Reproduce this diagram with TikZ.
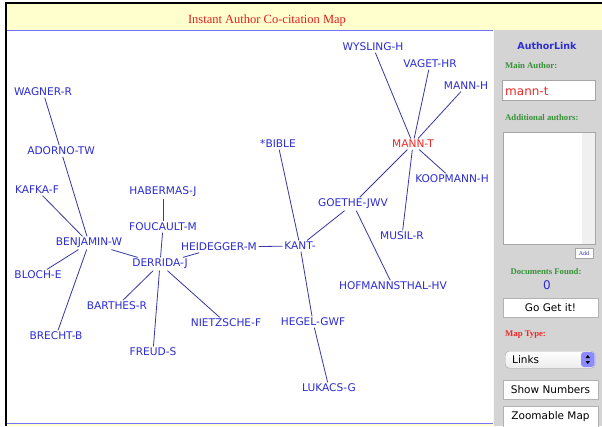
\documentclass[tikz,border=0pt]{standalone}
\usepackage{fontspec}
\setmainfont{Liberation Serif}
\setsansfont{DejaVu Sans}
\definecolor{authorblue}{RGB}{45,45,210}
\definecolor{linkblue}{RGB}{55,55,165}
\definecolor{mainred}{RGB}{240,40,40}
\definecolor{titlered}{RGB}{225,30,30}
\definecolor{titlebar}{RGB}{255,255,205}
\definecolor{panelgray}{RGB}{212,212,212}
\definecolor{formgreen}{RGB}{55,145,55}
\begin{document}
\begin{tikzpicture}[x=1pt, y=-1pt,
            author/.style = {text=authorblue, font=\sffamily\fontsize{10.6}{12}\selectfont, inner sep=1.5pt},
            mainauthor/.style = {author, text=mainred},
            link/.style = {draw=linkblue, line width=0.8pt},
            formlabel/.style = {text=formgreen, font=\bfseries\fontsize{8.7}{10}\selectfont, inner sep=0pt},
            button/.style = {draw=gray!60, fill=white, minimum width=95pt, minimum height=19pt, inner sep=0pt, font=\sffamily\fontsize{10.5}{12}\selectfont}
        ]

        \useasboundingbox (0,0) rectangle (602,426);
        \fill[white] (0,0) rectangle (602,426);
        \fill[titlebar] (6,3) rectangle (602,426);
        \fill[white] (7,30) rectangle (493,423);
        \draw[blue!55, line width=0.8pt] (7,30.5) -- (493,30.5) (7,423) -- (493,423);
        \fill[panelgray] (494,30) rectangle (602,426);
        \draw[black, line width=1.6pt] (6,426) -- (6,3) -- (602,3);

        \node[text=titlered, font=\fontsize{12.5}{14}\selectfont, anchor=base] (title) at (267,23) {Instant Author Co-citation Map};

        \node[author] (wagner) at (43,92) {WAGNER-R};
        \node[author] (adorno) at (61,151) {ADORNO-TW};
        \node[author] (kafka) at (37,190) {KAFKA-F};
        \node[author] (habermas) at (163,192) {HABERMAS-J};
        \node[author] (foucault) at (163,227) {FOUCAULT-M};
        \node[author] (benjamin) at (89,243) {BENJAMIN-W};
        \node[author] (heidegger) at (219,247) {HEIDEGGER-M};
        \node[author] (derrida) at (160,264) {DERRIDA-J};
        \node[author] (bloch) at (38,275) {BLOCH-E};
        \node[author] (barthes) at (117,306) {BARTHES-R};
        \node[author] (nietzsche) at (226,323) {NIETZSCHE-F};
        \node[author] (brecht) at (56,336) {BRECHT-B};
        \node[author] (freud) at (153,352) {FREUD-S};
        \node[author] (bible) at (278,144) {*BIBLE};
        \node[author] (kant) at (300,246) {KANT-};
        \node[author] (hegel) at (313,322) {HEGEL-GWF};
        \node[author] (lukacs) at (329,388) {LUKACS-G};
        \node[author] (goethe) at (353,204) {GOETHE-JWV};
        \node[author] (hofmannsthal) at (393,286) {HOFMANNSTHAL-HV};
        \node[mainauthor] (mannt) at (413,144) {MANN-T};
        \node[author] (wysling) at (373,47) {WYSLING-H};
        \node[author] (vaget) at (430,64) {VAGET-HR};
        \node[author] (mannh) at (466,86) {MANN-H};
        \node[author] (koopmann) at (452,179) {KOOPMANN-H};
        \node[author] (musil) at (402,236) {MUSIL-R};

        \draw[link] (wagner) -- (adorno);
        \draw[link] (adorno) -- (benjamin);
        \draw[link] (kafka) -- (benjamin);
        \draw[link] (bloch) -- (benjamin);
        \draw[link] (brecht) -- (benjamin);
        \draw[link] (benjamin) -- (derrida);
        \draw[link] (habermas) -- (foucault);
        \draw[link] (foucault) -- (derrida);
        \draw[link] (heidegger) -- (derrida);
        \draw[link] (heidegger) -- (kant);
        \draw[link] (derrida) -- (barthes);
        \draw[link] (derrida) -- (freud);
        \draw[link] (derrida) -- (nietzsche);
        \draw[link] (bible) -- (kant);
        \draw[link] (kant) -- (goethe);
        \draw[link] (kant) -- (hegel);
        \draw[link] (hegel) -- (lukacs);
        \draw[link] (goethe) -- (mannt);
        \draw[link] (goethe) -- (hofmannsthal);
        \draw[link] (mannt) -- (wysling);
        \draw[link] (mannt) -- (vaget);
        \draw[link] (mannt) -- (mannh);
        \draw[link] (mannt) -- (koopmann);
        \draw[link] (mannt) -- (musil);

        \node[text=authorblue, font=\sffamily\bfseries\fontsize{9.5}{11}\selectfont] (authorlink) at (547,46) {AuthorLink};
        \node[formlabel, anchor=west] (mainlabel) at (505,66) {Main Author:};
        \node[draw=gray!70, fill=white, minimum width=93pt, minimum height=20pt, anchor=north west] (mainbox) at (502,80) {};
        \node[text=mainred, font=\sffamily\fontsize{12}{14}\selectfont, anchor=west, inner sep=0pt] (mainname) at (505,91) {mann-t};
        \node[formlabel, anchor=west] (addlabel) at (505,118) {Additional authors:};
        \node[draw=gray!70, fill=white, minimum width=92pt, minimum height=112pt, anchor=north west] (addbox) at (503,132) {};
        \fill[gray!12] (582,132.5) rectangle (594.6,243.5);
        \node[draw=gray!70, fill=white, text=authorblue, font=\fontsize{6}{7}\selectfont, minimum width=18pt, minimum height=10pt, inner sep=0pt] (addbutton) at (584,253) {Add};
        \node[formlabel] (docslabel) at (546,272) {Documents Found:};
        \node[text=authorblue, font=\sffamily\fontsize{12}{14}\selectfont, inner sep=0pt] (docscount) at (547,285) {0};
        \node[button] (gogetit) at (550.5,308) {Go Get it!};
        \node[formlabel, text=mainred, anchor=west] (maptype) at (505,335) {Map Type:};
        \node[draw=gray!70, top color=white, bottom color=gray!15, rounded corners=4pt, minimum width=90pt, minimum height=17pt, anchor=north west] (linksbox) at (505,351) {};
        \fill[blue!45, rounded corners=3pt] (581,352) rectangle (594.5,367);
        \fill[black] (587.75,355) -- (590,358) -- (585.5,358) -- cycle;
        \fill[black] (587.75,364) -- (590,361) -- (585.5,361) -- cycle;
        \node[font=\sffamily\fontsize{10.5}{12}\selectfont, anchor=west, inner sep=0pt] (links) at (512,359.5) {Links};
        \node[button] (shownumbers) at (550.5,389.5) {Show Numbers};
        \draw[gray!60, fill=white] (503,426.5) -- (503,406) -- (598,406) -- (598,426.5);
        \node[font=\sffamily\fontsize{10.5}{12}\selectfont] (zoomable) at (550.5,417) {Zoomable Map};

    \end{tikzpicture}
\end{document}
